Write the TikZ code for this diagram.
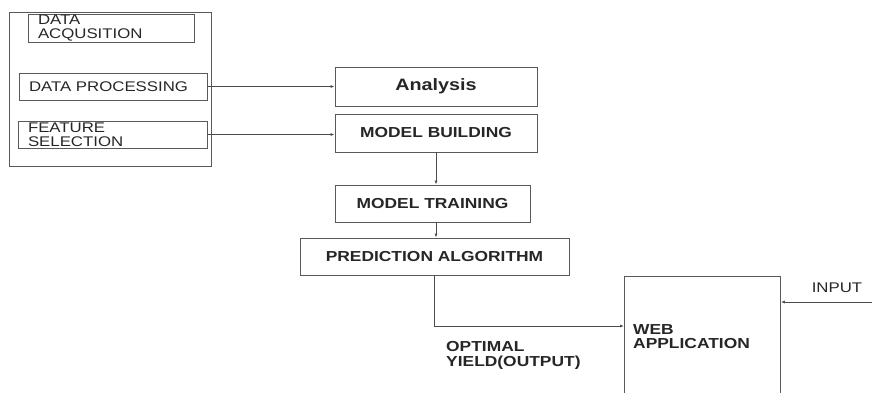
\documentclass[tikz,border=0pt]{standalone}
\usepackage{fontspec}
\setmainfont{Liberation Sans}[FakeStretch=1.2]
\usetikzlibrary{arrows.meta,positioning}
\tikzset{
  box/.style={draw=black!65,line width=0.8pt,rectangle,inner sep=0pt,text=black!85},
  lbox/.style={box,align=left,text width=#1,inner xsep=10pt,font=\fontsize{14}{14}\selectfont},
  bbox/.style={box,font=\bfseries\fontsize{14.5}{14}\selectfont},
  txt/.style={inner sep=0pt,text=black!85,align=left},
  flow/.style={draw=black!70,line width=0.8pt,-{Latex[length=4pt,width=3pt]}}
}
\begin{document}
\begin{tikzpicture}[x=1pt,y=-1pt]
  \useasboundingbox (0,0) rectangle (872,392);
  \node[box,minimum width=202,minimum height=154] (prep) at (110,89) {};
  \node[lbox=146,minimum height=28] (acq) at (111,28) {DATA\\ACQUSITION};
  \node[lbox=168,minimum height=27] (proc) at (113,86.5) {DATA PROCESSING};
  \node[lbox=169,minimum height=27] (feat) at (112.5,134.5) {FEATURE\\SELECTION};
  \node[box,font=\bfseries\fontsize{16.5}{17}\selectfont,minimum width=202,minimum height=39] (ana) at (436,86.5) {Analysis};
  \node[bbox,minimum width=202,minimum height=38] (build) at (436,133) {MODEL BUILDING};
  \node[bbox,minimum width=195,minimum height=37] (train) at (432.5,203.5) {MODEL TRAINING};
  \node[bbox,minimum width=269,minimum height=37] (pred) at (434.5,256.5) {PREDICTION ALGORITHM};
  \node[box,minimum width=156,minimum height=130,anchor=north west] (web) at (624,276) {};
  \node[txt,font=\bfseries\fontsize{14.5}{14}\selectfont,anchor=base west] (webtxt) at (633,348) {WEB\\APPLICATION};
  \node[txt,font=\bfseries\fontsize{14.5}{15}\selectfont,anchor=base west] (yield) at (446,366) {OPTIMAL\\YIELD(OUTPUT)};
  \node[txt,font=\fontsize{14}{14}\selectfont] (intxt) at (837,288) {INPUT};
  \coordinate (inp) at (872,302);
  \draw[flow] (proc.east) -- (proc.east -| ana.west);
  \draw[flow] (feat.east) -- (feat.east -| build.west);
  \draw[flow] (build.south) -- (build.south |- train.north);
  \draw[flow] (train.south -| build.south) -- (pred.north -| build.south);
  \draw[flow] (pred.south) |- ([yshift=-50pt]web.north west);
  \draw[flow] (inp) -- (inp -| web.east);
\end{tikzpicture}
\end{document}
